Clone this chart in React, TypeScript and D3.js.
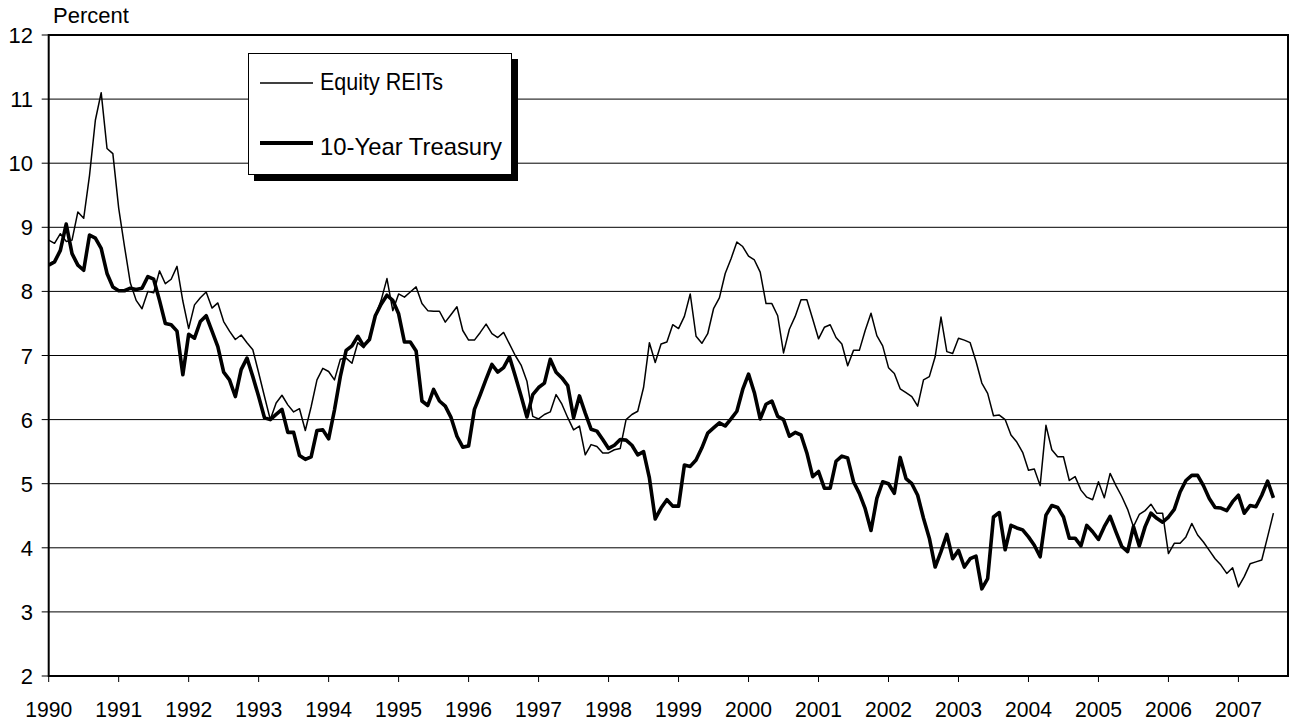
import React, { useEffect } from 'react';
import * as d3 from 'd3';

// monthly values, Jan 1990 .. Jul 2007
const equityReits = [
  8.8, 8.75, 8.9, 8.78, 8.8, 9.24, 9.14, 9.81, 10.67, 11.1, 10.23, 10.15,
  9.3, 8.7, 8.13, 7.86, 7.73, 8.0, 7.98, 8.32, 8.12, 8.19, 8.39, 7.85,
  7.42, 7.79, 7.9, 7.99, 7.74, 7.82, 7.53, 7.38, 7.25, 7.32, 7.2, 7.09,
  6.73, 6.36, 6.0, 6.26, 6.38, 6.23, 6.12, 6.17, 5.83, 6.2, 6.62, 6.8,
  6.75, 6.62, 6.94, 6.96, 6.88, 7.2, 7.12, 7.28, 7.62, 7.86, 8.2, 7.7,
  7.96, 7.91, 7.99, 8.07, 7.81, 7.7, 7.69, 7.69, 7.52, 7.64, 7.76, 7.39,
  7.24, 7.24, 7.36, 7.49, 7.34, 7.28, 7.36, 7.18, 7.0, 6.85, 6.6, 6.05,
  6.01, 6.08, 6.12, 6.39, 6.24, 6.03, 5.84, 5.9, 5.45, 5.61, 5.58, 5.48,
  5.48, 5.53, 5.55, 6.0, 6.08, 6.13, 6.5, 7.2, 6.89, 7.18, 7.21, 7.48,
  7.42, 7.61, 7.96, 7.3, 7.19, 7.34, 7.73, 7.9, 8.28, 8.51, 8.77, 8.7,
  8.55, 8.49, 8.3, 7.81, 7.81, 7.62, 7.04, 7.41, 7.61, 7.87, 7.87, 7.57,
  7.26, 7.44, 7.48, 7.28, 7.18, 6.84, 7.08, 7.08, 7.39, 7.66, 7.31, 7.15,
  6.81, 6.72, 6.48, 6.42, 6.36, 6.21, 6.62, 6.67, 6.98, 7.6, 7.06, 7.03,
  7.27, 7.24, 7.2, 6.91, 6.57, 6.41, 6.06, 6.07, 6.0, 5.76, 5.65, 5.49,
  5.21, 5.23, 4.97, 5.91, 5.53, 5.42, 5.42, 5.05, 5.11, 4.9, 4.79, 4.75,
  5.03, 4.78, 5.16, 4.97, 4.8, 4.6, 4.33, 4.52, 4.58, 4.68, 4.54, 4.54,
  3.91, 4.07, 4.07, 4.17, 4.38, 4.2, 4.09, 3.96, 3.83, 3.73, 3.6, 3.69,
  3.39, 3.55, 3.75, 3.78, 3.81, 4.17, 4.54,
];

const treasury10y = [
  8.41, 8.46, 8.64, 9.05, 8.59, 8.41, 8.33, 8.88, 8.83, 8.67, 8.28, 8.07,
  8.01, 8.01, 8.05, 8.03, 8.05, 8.23, 8.19, 7.86, 7.5, 7.48, 7.38, 6.7,
  7.33, 7.27, 7.53, 7.62, 7.38, 7.14, 6.74, 6.62, 6.36, 6.78, 6.96, 6.67,
  6.36, 6.03, 6.0, 6.08, 6.16, 5.8, 5.8, 5.44, 5.38, 5.42, 5.83, 5.84,
  5.7, 6.15, 6.67, 7.08, 7.15, 7.3, 7.15, 7.25, 7.62, 7.8, 7.94, 7.86,
  7.65, 7.21, 7.21, 7.07, 6.29, 6.22, 6.47, 6.29, 6.21, 6.03, 5.74, 5.57,
  5.59, 6.16, 6.39, 6.63, 6.86, 6.74, 6.81, 6.98, 6.68, 6.37, 6.04, 6.39,
  6.5, 6.57, 6.94, 6.74, 6.65, 6.53, 6.03, 6.37, 6.1, 5.85, 5.82, 5.69,
  5.55, 5.6, 5.69, 5.68, 5.6, 5.45, 5.5, 5.09, 4.45, 4.62, 4.75, 4.65,
  4.65, 5.29, 5.27, 5.37, 5.56, 5.79, 5.87, 5.95, 5.9, 6.01, 6.13, 6.47,
  6.71, 6.42, 6.01, 6.24, 6.29, 6.05, 6.0, 5.74, 5.8, 5.76, 5.48, 5.11,
  5.19, 4.93, 4.93, 5.35, 5.43, 5.4, 5.03, 4.85, 4.61, 4.27, 4.77, 5.03,
  5.0, 4.85, 5.41, 5.08, 5.0, 4.82, 4.46, 4.15, 3.7, 3.94, 4.21, 3.83,
  3.96, 3.7, 3.83, 3.87, 3.36, 3.52, 4.48, 4.55, 3.97, 4.35, 4.31, 4.28,
  4.17, 4.04, 3.86, 4.51, 4.66, 4.63, 4.48, 4.15, 4.15, 4.03, 4.35, 4.25,
  4.13, 4.33, 4.49, 4.25, 4.02, 3.94, 4.33, 4.03, 4.33, 4.54, 4.46, 4.4,
  4.48, 4.6, 4.87, 5.05, 5.13, 5.13, 4.97, 4.77, 4.63, 4.62, 4.58, 4.72,
  4.82, 4.54, 4.66, 4.64, 4.82, 5.04, 4.78,
];

const years = d3.range(1990, 2008);
const yTicks = d3.range(2, 13);
const legendNames = ['Equity REITs', '10-Year Treasury'];

const W = 1291;
const H = 726;
const plot = { left: 48.7, right: 1288, top: 35, bottom: 676 };
const font = '"Liberation Sans", Arial, sans-serif';

const App = () => {
  useEffect(() => {
    document.body.style.margin = '0';
  }, []);

  const x = d3.scaleLinear().domain([0, 212.5]).range([plot.left, plot.right]);
  const y = d3.scaleLinear().domain([2, 12]).range([plot.bottom, plot.top]);
  const line = d3
    .line<number>()
    .x((d, i) => x(i))
    .y((d) => y(d));

  return (
    <svg width={W} height={H} style={{ display: 'block', background: '#fff' }}>
      {/* grid */}
      {yTicks.slice(1, -1).map((t) => (
        <line key={t} x1={plot.left} x2={plot.right} y1={y(t)} y2={y(t)} stroke="#000" strokeWidth={1} />
      ))}

      <path d={line(equityReits) || ''} fill="none" stroke="#000" strokeWidth={1.5} strokeLinejoin="round" />
      <path d={line(treasury10y) || ''} fill="none" stroke="#000" strokeWidth={3.6} strokeLinejoin="round" />

      <rect
        x={plot.left}
        y={plot.top}
        width={plot.right - plot.left}
        height={plot.bottom - plot.top}
        fill="none"
        stroke="#000"
        strokeWidth={2}
      />

      {/* y axis */}
      {yTicks.map((t) => (
        <g key={t}>
          <line x1={plot.left - 7} x2={plot.left} y1={y(t)} y2={y(t)} stroke="#000" strokeWidth={1} />
          <text x={33} y={y(t) + 8} textAnchor="end" fontFamily={font} fontSize={22}>
            {t}
          </text>
        </g>
      ))}
      <text x={53} y={23} fontFamily={font} fontSize={22}>
        Percent
      </text>

      {/* x axis */}
      {years.map((yr, k) => (
        <g key={yr}>
          <line x1={x(k * 12)} x2={x(k * 12)} y1={plot.bottom} y2={plot.bottom + 6} stroke="#000" strokeWidth={1} />
          <text
            x={x(k * 12) - 23.5}
            y={717}
            fontFamily={font}
            fontSize={22}
            textLength={47}
            lengthAdjust="spacingAndGlyphs"
          >
            {yr}
          </text>
        </g>
      ))}

      {/* legend */}
      <rect x={254} y={59} width={264} height={122} fill="#000" />
      <rect x={248.5} y={53.5} width={263} height={121} fill="#fff" stroke="#000" strokeWidth={1} />
      <line x1={260} x2={313} y1={83} y2={83} stroke="#000" strokeWidth={1.5} />
      <text x={320} y={90} fontFamily={font} fontSize={24} textLength={123} lengthAdjust="spacingAndGlyphs">
        {legendNames[0]}
      </text>
      <line x1={260} x2={313} y1={143} y2={143} stroke="#000" strokeWidth={4} />
      <text x={320} y={155} fontFamily={font} fontSize={24} textLength={182} lengthAdjust="spacingAndGlyphs">
        {legendNames[1]}
      </text>
    </svg>
  );
};

export default App;
